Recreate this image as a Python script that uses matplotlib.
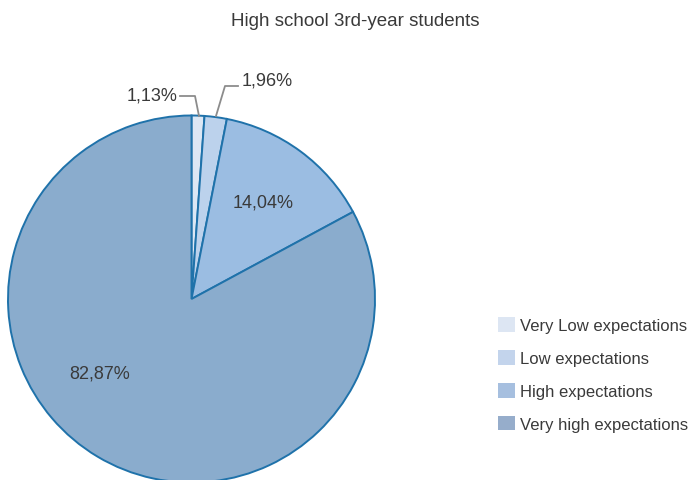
import matplotlib.pyplot as plt
from matplotlib.patches import Patch

# data
categories = ['Very Low expectations', 'Low expectations', 'High expectations', 'Very high expectations']
shares = [1.13, 1.96, 14.04, 82.87]
share_labels = ['1,13%', '1,96%', '14,04%', '82,87%']
slice_colors = ['#dce7f4', '#bcd2ec', '#9bbde2', '#8aaccd']
legend_colors = ['#dde6f3', '#c3d4ec', '#a6bfdf', '#96adcb']

plt.rcParams['font.family'] = ['Liberation Sans', 'DejaVu Sans']
txt = '#3a3a3a'

W, H = 692, 481
fig = plt.figure(figsize=(W / 100, H / 100), dpi=100)

# pie centre ~ (191.5, 300) px from top-left, radius ~183.5 px
cx, cy, r = 191.5, 300, 183.5
ax = fig.add_axes([(cx - r) / W, (H - cy - r) / H, 2 * r / W, 2 * r / H])
wedges, _ = ax.pie(shares, colors=slice_colors, startangle=90, counterclock=False,
                   radius=1, wedgeprops=dict(edgecolor='#1f72aa', linewidth=1.4))
ax.set_xlim(-1, 1)
ax.set_ylim(-1, 1)
ax.set_aspect('equal')
for w in wedges:
    w.set_clip_on(False)

def px(x, y):
    # figure pixel (top-left origin) -> data coords of the pie axes
    return ((x - cx) / r, (cy - y) / r)

fs = 13
# labels inside the slices
ax.text(*px(263, 203), share_labels[2], ha='center', va='center', fontsize=fs, color=txt)
ax.text(*px(100, 374), share_labels[3], ha='center', va='center', fontsize=fs, color=txt)

# small slices: labels outside with leader lines
lc = '#8c8c8c'
p = [px(180, 97), px(195, 97), px(199, 117)]
ax.plot([q[0] for q in p], [q[1] for q in p], color=lc, lw=1.3, clip_on=False)
ax.text(*px(177, 96), share_labels[0], ha='right', va='center', fontsize=fs, color=txt)
p = [px(216, 117), px(225, 87), px(238, 87)]
ax.plot([q[0] for q in p], [q[1] for q in p], color=lc, lw=1.3, clip_on=False)
ax.text(*px(242, 81), share_labels[1], ha='left', va='center', fontsize=fs, color=txt)

fig.text(355 / W, 1 - 22 / H, 'High school 3rd-year students', ha='center', va='center',
         fontsize=13.5, color=txt)

handles = [Patch(facecolor=c, edgecolor='none') for c in legend_colors]
fig.legend(handles, categories, loc='upper left', bbox_to_anchor=(498 / W, 1 - 318 / H),
           frameon=False, fontsize=12, handlelength=1.0, handleheight=1.0,
           handletextpad=0.3, labelspacing=1.0, borderaxespad=0, borderpad=0,
           labelcolor=txt)

fig.savefig('out.png', dpi=100)
